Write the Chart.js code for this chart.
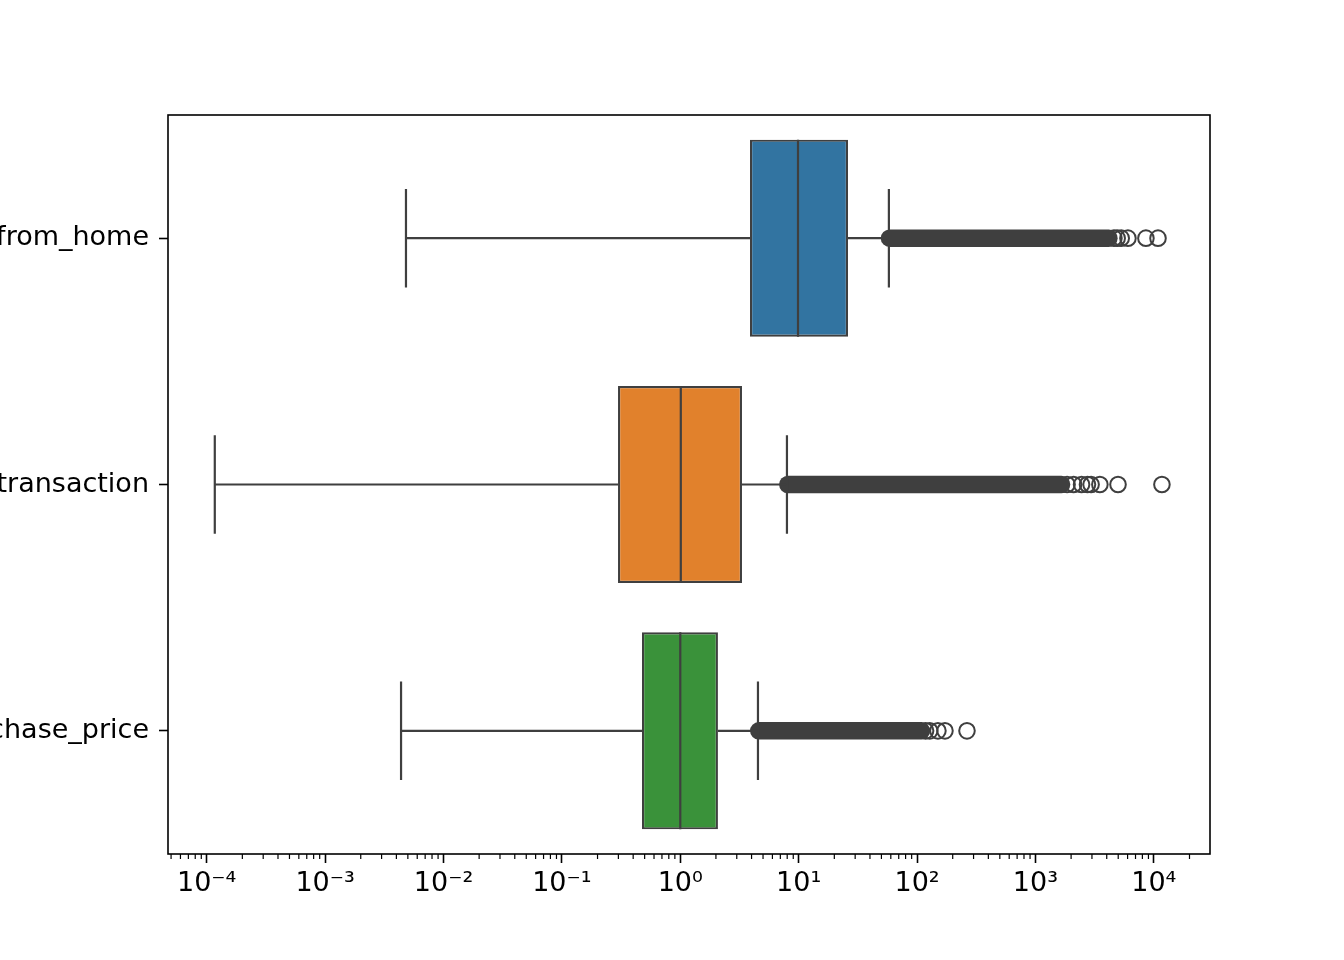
<!DOCTYPE html>
<html>
<head>
<meta charset="utf-8">
<script src="https://cdn.jsdelivr.net/npm/chart.js@4.4.1/dist/chart.umd.min.js"></script>
<style>
  html, body { margin: 0; padding: 0; background: #fff; }
  canvas { display: block; }
</style>
</head>
<body>
<canvas id="boxplot" width="1344" height="960"></canvas>
<script>
// box plot stats
const categories = ['distance_from_home', 'distance_from_last_transaction', 'ratio_to_median_purchase_price'];
const whiskerLow = [0.00482, 0.000117, 0.00438];
const q1 = [3.88, 0.298, 0.475];
const median = [9.87, 1.01, 1.0];
const q3 = [26.1, 3.32, 2.08];
const whiskerHigh = [57.8, 7.96, 4.53];

// thousands of fliers overlap into a solid run, start and end of that run
const denseFlierStart = [58.5, 8.1, 4.6];
const denseFlierEnd = [4170, 1660, 109];

// fliers that can still be told apart
const fliersHome = [4600, 4900, 5300, 6040, 8570, 10840];
const fliersTransaction = [1850, 2100, 2450, 2750, 2950, 3500, 4980, 11700];
const fliersPrice = [118, 128, 150, 172, 264];

const boxColors = ['#3274a1', '#e1812c', '#3a923a'];
const xTickExponents = [-4, -3, -2, -1, 0, 1, 2, 3, 4];
const xMin = 4.71e-5;
const xMax = 29800;

const edge = '#3f3f3f';
const rowY = categories.map((c, i) => i + 0.5);

const sup = (n) => String(n).split('').map(ch => '⁻⁰¹²³⁴⁵⁶⁷⁸⁹'['-0123456789'.indexOf(ch)]).join('');

const segment = (points, order) => ({
    type: 'line',
    data: points,
    borderColor: edge,
    borderWidth: 2.2,
    pointRadius: 0,
    fill: false,
    order: order
});

const datasets = [];

// boxes
datasets.push({
    type: 'bar',
    data: categories.map((c, i) => ({ x: [q1[i], q3[i]], y: rowY[i] })),
    backgroundColor: boxColors,
    borderColor: edge,
    borderWidth: 2.2,
    borderSkipped: false,
    categoryPercentage: 1,
    barPercentage: 0.8,
    order: 1
});

categories.forEach((c, i) => {
    const y = rowY[i];
    // whiskers + caps
    datasets.push(segment([{ x: whiskerLow[i], y }, { x: q1[i], y }], 2));
    datasets.push(segment([{ x: q3[i], y }, { x: whiskerHigh[i], y }], 2));
    datasets.push(segment([{ x: whiskerLow[i], y: y - 0.2 }, { x: whiskerLow[i], y: y + 0.2 }], 2));
    datasets.push(segment([{ x: whiskerHigh[i], y: y - 0.2 }, { x: whiskerHigh[i], y: y + 0.2 }], 2));
    // median
    datasets.push(segment([{ x: median[i], y: y - 0.4 }, { x: median[i], y: y + 0.4 }], 0));
    // dense run of fliers
    datasets.push({
        type: 'line',
        data: [{ x: denseFlierStart[i], y }, { x: denseFlierEnd[i], y }],
        borderColor: edge,
        borderWidth: 17.5,
        borderCapStyle: 'round',
        pointRadius: 0,
        order: 3
    });
});

[fliersHome, fliersTransaction, fliersPrice].forEach((list, i) => {
    datasets.push({
        type: 'scatter',
        data: list.map(v => ({ x: v, y: rowY[i] })),
        pointStyle: 'circle',
        pointRadius: 7.8,
        pointBorderWidth: 2,
        pointBackgroundColor: 'rgba(0,0,0,0)',
        pointBorderColor: edge,
        order: 3
    });
});

// minor log ticks + the frame round the plot
const frame = {
    id: 'frame',
    afterDraw(chart) {
        const { ctx, chartArea } = chart;
        const xs = chart.scales.x;
        ctx.save();
        ctx.strokeStyle = '#000';
        ctx.lineWidth = 1.2;
        for (let e = -5; e <= 4; e++) {
            for (let k = 2; k <= 9; k++) {
                const v = k * Math.pow(10, e);
                if (v < xMin || v > xMax) continue;
                const px = xs.getPixelForValue(v);
                ctx.beginPath();
                ctx.moveTo(px, chartArea.bottom);
                ctx.lineTo(px, chartArea.bottom + 5);
                ctx.stroke();
            }
        }
        ctx.lineWidth = 1.6;
        ctx.strokeRect(chartArea.left, chartArea.top, chartArea.right - chartArea.left, chartArea.bottom - chartArea.top);
        ctx.restore();
    }
};

const tickFont = { family: 'DejaVu Sans', size: 27 };

const chart = new Chart(document.getElementById('boxplot'), {
    type: 'bar',
    data: { datasets },
    options: {
        indexAxis: 'y',
        responsive: false,
        animation: false,
        events: [],
        layout: { padding: { top: 115, right: 134, left: 0, bottom: 0 } },
        plugins: {
            legend: { display: false },
            tooltip: { enabled: false }
        },
        scales: {
            x: {
                type: 'logarithmic',
                position: 'bottom',
                min: xMin,
                max: xMax,
                offset: false,
                border: { display: false },
                grid: { drawOnChartArea: false, offset: false, tickLength: 9, tickWidth: 1.6, tickColor: '#000' },
                ticks: {
                    font: tickFont,
                    color: '#000',
                    padding: 5,
                    maxRotation: 0,
                    autoSkip: false,
                    callback: (v) => '10' + sup(Math.round(Math.log10(v)))
                },
                afterBuildTicks: (scale) => {
                    scale.ticks = xTickExponents.map(e => ({ value: Math.pow(10, e), major: true }));
                },
                afterFit: (scale) => { scale.height = 106; }
            },
            y: {
                type: 'linear',
                position: 'left',
                min: 0,
                max: 3,
                reverse: true,
                offset: false,
                border: { display: false },
                grid: { drawOnChartArea: false, offset: false, tickLength: 9, tickWidth: 1.6, tickColor: '#000' },
                ticks: {
                    font: tickFont,
                    color: '#000',
                    padding: 10,
                    autoSkip: false,
                    callback: (v, i) => categories[i]
                },
                afterBuildTicks: (scale) => {
                    scale.ticks = rowY.map(v => ({ value: v }));
                },
                afterFit: (scale) => { scale.width = 168; }
            }
        }
    },
    plugins: [frame]
});
</script>
</body>
</html>
